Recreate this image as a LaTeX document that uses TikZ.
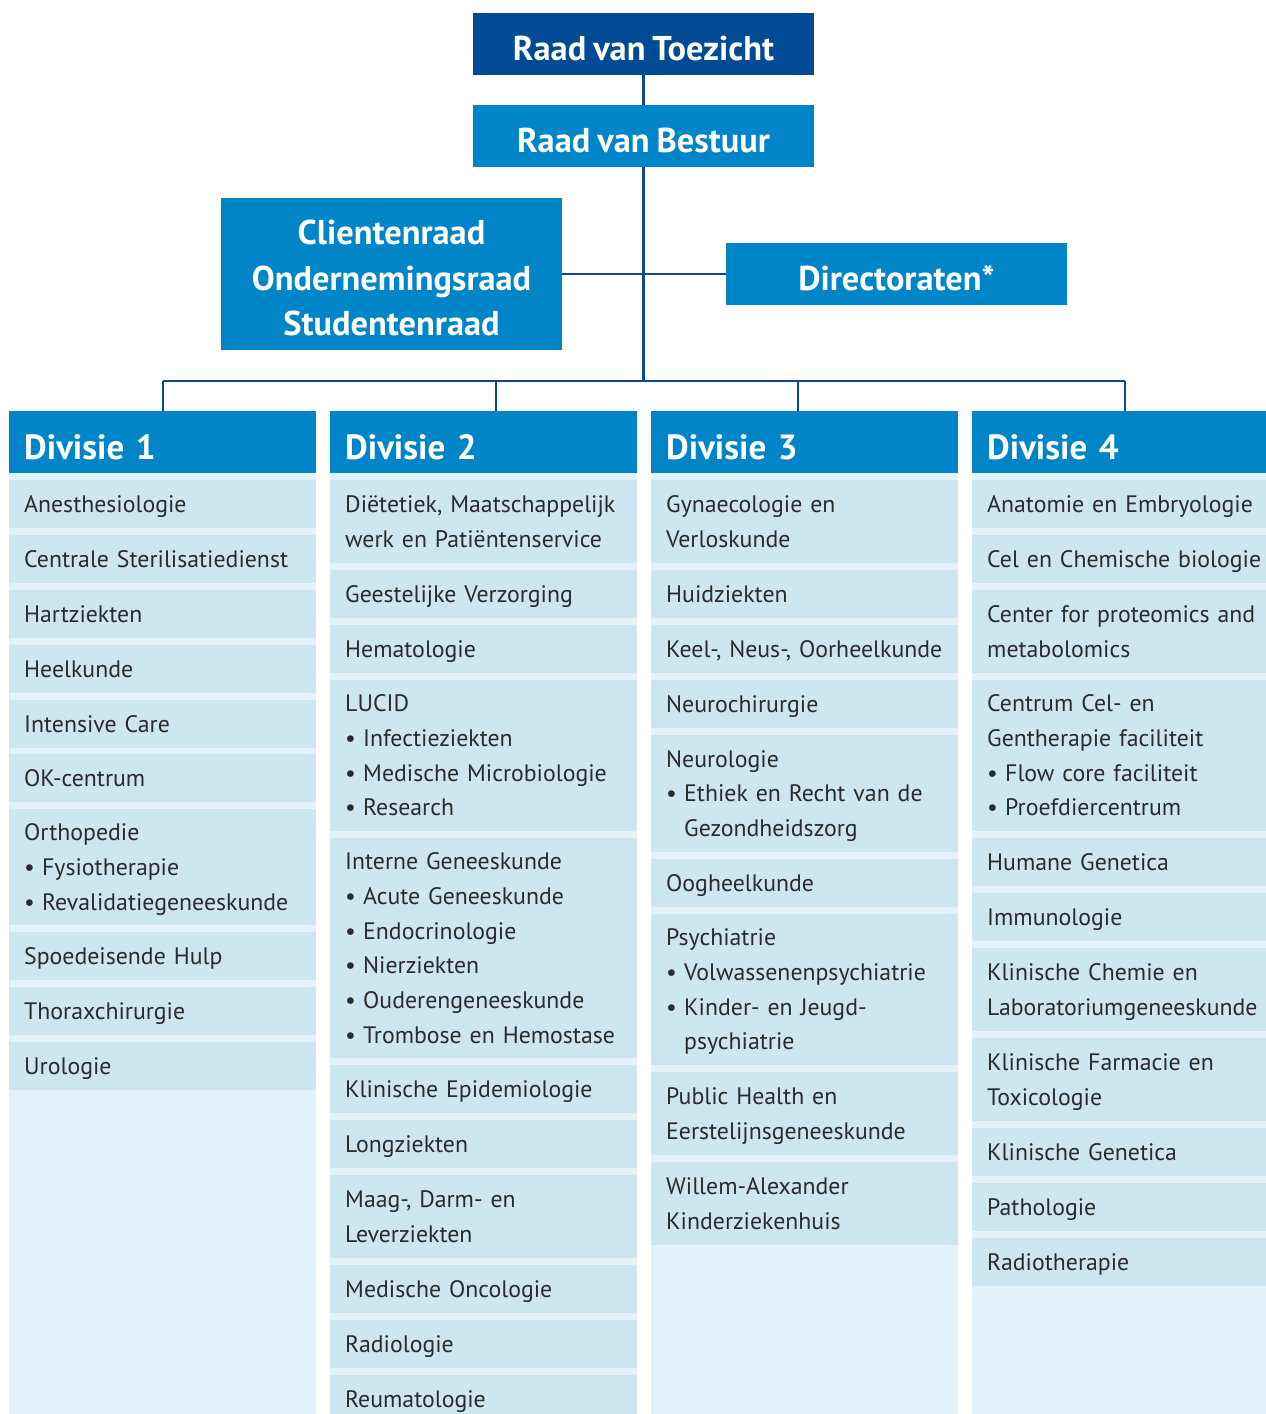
\documentclass[tikz,border=0pt]{standalone}
\usepackage{fontspec}
\setmainfont{PT Sans}[WordSpace=0.8]
\definecolor{navy}{HTML}{004B93}
\definecolor{midblue}{HTML}{0085C9}
\definecolor{paleblue}{HTML}{E3F2F8}
\definecolor{rowblue}{HTML}{CCE7F0}
\definecolor{linecol}{HTML}{0D4A8C}
\definecolor{txtgray}{HTML}{2B2B2B}
\newcommand\rstrut{\rule[-9.1pt]{0pt}{34.6pt}}
\newcommand\bitem{\makebox[18pt][l]{•}}
\newcommand\bind{\hspace*{18pt}}
\begin{document}
\begin{tikzpicture}[x=1pt,y=-1pt,
  topbox/.style={fill=midblue, text=white, font=\bfseries\fontsize{34.4}{45.5}\selectfont,
    inner sep=0pt, minimum width=341pt, minimum height=62pt, align=center},
  oneline/.style={text height=33pt, text depth=0pt},
  divhead/.style={fill=midblue, text=white, font=\bfseries\fontsize{35}{40}\selectfont,
    anchor=north west, inner xsep=15pt, inner ysep=0pt, text width=277pt,
    minimum height=62pt, text height=34pt, text depth=0pt, align=left},
  rowbox/.style={fill=rowblue, text=txtgray, font=\fontsize{23.8}{34.7}\selectfont,
    anchor=north west, inner xsep=15pt, inner ysep=0pt, text width=277pt, align=left,
    execute at begin node=\rstrut, execute at end node=\rstrut},
  conn/.style={draw=linecol, line width=2.4pt}]
\useasboundingbox (0,0) rectangle (1266,1414);
\clip (0,0) rectangle (1266,1414);
\fill[white] (0,0) rectangle (1266,1414);

% column backgrounds
\fill[paleblue] (9,473) rectangle (316,1420);
\fill[paleblue] (330,473) rectangle (637,1420);
\fill[paleblue] (651,473) rectangle (958,1420);
\fill[paleblue] (972,473) rectangle (1279,1420);

% top boxes
\node[topbox, oneline, fill=navy] (rvt) at (643.5,44) {Raad van Toezicht};
\node[topbox, oneline] (rvb) at (643.5,136) {Raad van Bestuur};
\node[topbox, minimum height=152pt] (raden) at (391.5,274)
  {\rule{0pt}{33pt}Clientenraad\\Ondernemingsraad\\Studentenraad};
\node[topbox, oneline] (dir) at (896.5,274) {Directoraten*};

% division headers
\node[divhead] (h1) at (9,411) {Divisie 1};
\node[divhead] (h2) at (330,411) {Divisie 2};
\node[divhead] (h3) at (651,411) {Divisie 3};
\node[divhead] (h4) at (972,411) {Divisie 4};

% connectors
\coordinate (hub) at (643.5,381);
\coordinate (b1) at (163,381);
\coordinate (b2) at (496,381);
\coordinate (b3) at (798,381);
\coordinate (b4) at (1125,381);
\draw[conn] (rvt.south) -- (rvb.north);
\draw[conn] (rvb.south) -- (hub);
\draw[conn] (raden.east) -- (dir.west);
\draw[conn] (b1) -- (b4);
\draw[conn] (b1) -- (b1 |- h1.north);
\draw[conn] (b2) -- (b2 |- h2.north);
\draw[conn] (b3) -- (b3 |- h3.north);
\draw[conn] (b4) -- (b4 |- h4.north);

% Divisie 1
\node[rowbox, minimum height=48pt] (a1) at (9,480) {Anesthesiologie};
\node[rowbox, minimum height=48pt] (a2) at (9,535) {\mbox{Centrale Sterilisatiedienst}};
\node[rowbox, minimum height=48pt] (a3) at (9,590) {Hartziekten};
\node[rowbox, minimum height=48pt] (a4) at (9,645) {Heelkunde};
\node[rowbox, minimum height=48pt] (a5) at (9,700) {Intensive Care};
\node[rowbox, minimum height=48pt] (a6) at (9,754) {OK-centrum};
\node[rowbox, minimum height=116pt] (a7) at (9,809) {Orthopedie\\\bitem Fysiotherapie\\\bitem Revalidatiegeneeskunde};
\node[rowbox, minimum height=48pt] (a8) at (9,932) {Spoedeisende Hulp};
\node[rowbox, minimum height=48pt] (a9) at (9,987) {Thoraxchirurgie};
\node[rowbox, minimum height=48pt] (a10) at (9,1042) {Urologie};

% Divisie 2
\node[rowbox, minimum height=83pt] (b2r1) at (330,480) {\mbox{Diëtetiek, Maatschappelijk}\\\mbox{werk en Patiëntenservice}};
\node[rowbox, minimum height=48pt] (b2r2) at (330,570) {Geestelijke Verzorging};
\node[rowbox, minimum height=48pt] (b2r3) at (330,625) {Hematologie};
\node[rowbox, minimum height=151pt] (b2r4) at (330,680) {LUCID\\\bitem Infectieziekten\\\bitem Medische Microbiologie\\\bitem Research};
\node[rowbox, minimum height=220pt] (b2r5) at (330,838) {Interne Geneeskunde\\\bitem Acute Geneeskunde\\\bitem Endocrinologie\\\bitem Nierziekten\\\bitem Ouderengeneeskunde\\\bitem \mbox{Trombose en Hemostase}};
\node[rowbox, minimum height=48pt] (b2r6) at (330,1065) {Klinische Epidemiologie};
\node[rowbox, minimum height=48pt] (b2r7) at (330,1120) {Longziekten};
\node[rowbox, minimum height=83pt] (b2r8) at (330,1175) {Maag-, Darm- en\\Leverziekten};
\node[rowbox, minimum height=48pt] (b2r9) at (330,1265) {Medische Oncologie};
\node[rowbox, minimum height=48pt] (b2r10) at (330,1320) {Radiologie};
\node[rowbox, minimum height=48pt] (b2r11) at (330,1375) {Reumatologie};

% Divisie 3
\node[rowbox, minimum height=83pt] (c1) at (651,480) {Gynaecologie en\\Verloskunde};
\node[rowbox, minimum height=48pt] (c2) at (651,570) {Huidziekten};
\node[rowbox, minimum height=48pt] (c3) at (651,625) {\mbox{Keel-, Neus-, Oorheelkunde}};
\node[rowbox, minimum height=48pt] (c4) at (651,680) {Neurochirurgie};
\node[rowbox, minimum height=117pt] (c5) at (651,735) {Neurologie\\\bitem \mbox{Ethiek en Recht van de}\\\bind Gezondheidszorg};
\node[rowbox, minimum height=48pt] (c6) at (651,859) {Oogheelkunde};
\node[rowbox, minimum height=151pt] (c7) at (651,914) {Psychiatrie\\\bitem Volwassenenpsychiatrie\\\bitem Kinder- en Jeugd-\\\bind psychiatrie};
\node[rowbox, minimum height=83pt] (c8) at (651,1072) {Public Health en\\Eerstelijnsgeneeskunde};
\node[rowbox, minimum height=83pt] (c9) at (651,1162) {Willem-Alexander\\Kinderziekenhuis};

% Divisie 4
\node[rowbox, minimum height=48pt] (d1) at (972,480) {\mbox{Anatomie en Embryologie}};
\node[rowbox, minimum height=48pt] (d2) at (972,535) {\mbox{Cel en Chemische biologie}};
\node[rowbox, minimum height=83pt] (d3) at (972,590) {\mbox{Center for proteomics and}\\metabolomics};
\node[rowbox, minimum height=151pt] (d4) at (972,680) {Centrum Cel- en\\Gentherapie faciliteit\\\bitem Flow core faciliteit\\\bitem Proefdiercentrum};
\node[rowbox, minimum height=48pt] (d5) at (972,838) {Humane Genetica};
\node[rowbox, minimum height=48pt] (d6) at (972,893) {Immunologie};
\node[rowbox, minimum height=83pt] (d7) at (972,948) {Klinische Chemie en\\Laboratoriumgeneeskunde};
\node[rowbox, minimum height=83pt] (d8) at (972,1038) {Klinische Farmacie en\\Toxicologie};
\node[rowbox, minimum height=48pt] (d9) at (972,1128) {Klinische Genetica};
\node[rowbox, minimum height=48pt] (d10) at (972,1183) {Pathologie};
\node[rowbox, minimum height=48pt] (d11) at (972,1238) {Radiotherapie};
\end{tikzpicture}
\end{document}
